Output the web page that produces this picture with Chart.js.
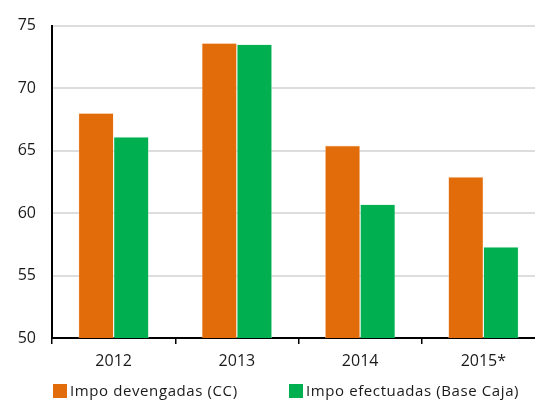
<!DOCTYPE html>
<html>
<head>
<meta charset="utf-8">
<script src="https://cdn.jsdelivr.net/npm/chart.js@4/dist/chart.umd.min.js"></script>
<style>
  html, body { margin: 0; padding: 0; background: #ffffff; overflow: hidden; width: 535px; height: 401px; }
  #wrap { position: relative; width: 545px; height: 401px; }
  canvas { display: block; }
</style>
</head>
<body>
<div id="wrap"><canvas id="c" width="545" height="401"></canvas></div>
<script>
const categories = ['2012', '2013', '2014', '2015*'];
const seriesNames = ['Impo devengadas (CC)', 'Impo efectuadas (Base Caja)'];
const devengadas = [68.0, 73.6, 65.4, 62.9];
const efectuadas = [66.1, 73.5, 60.7, 57.3];
const yTicks = [50, 55, 60, 65, 70, 75];

const ORANGE = '#E36C0A';
const GREEN = '#00B050';
const FONT = '"Open Sans", Lato, sans-serif';
const TEXT = '#1a1a1a';

const legendPlugin = {
  id: 'customLegend',
  afterDraw(chart) {
    const ctx = chart.ctx;
    const area = chart.chartArea;
    const starts = [area.left + 1, area.left + 237];
    const yc = 391;
    ctx.save();
    ctx.font = '15px ' + FONT;
    if ('letterSpacing' in ctx) ctx.letterSpacing = '0.6px';
    ctx.textBaseline = 'middle';
    ctx.textAlign = 'left';
    chart.data.datasets.forEach((ds, i) => {
      const x = starts[i];
      ctx.fillStyle = ds.backgroundColor;
      ctx.fillRect(x, yc - 7, 14, 14);
      ctx.fillStyle = TEXT;
      ctx.fillText(ds.label, x + 17, yc + 1);
    });
    ctx.restore();
  }
};

new Chart(document.getElementById('c'), {
  type: 'bar',
  data: {
    labels: categories,
    datasets: [
      { label: seriesNames[0], data: devengadas, backgroundColor: ORANGE, borderColor: 'rgba(255,230,210,0.9)', borderWidth: 0.6 },
      { label: seriesNames[1], data: efectuadas, backgroundColor: GREEN, borderColor: 'rgba(210,245,225,0.9)', borderWidth: 0.6 }
    ]
  },
  options: {
    responsive: false,
    animation: false,
    devicePixelRatio: 1,
    layout: { padding: { top: 20, left: 0, right: 0, bottom: 0 } },
    datasets: { bar: { categoryPercentage: 0.57, barPercentage: 1.0 } },
    plugins: { legend: { display: false }, tooltip: { enabled: false } },
    scales: {
      x: {
        grid: { display: true, drawOnChartArea: false, drawTicks: true, tickLength: 6, color: '#000000', lineWidth: 1.5, offset: true },
        border: { display: true, color: '#000000', width: 2 },
        ticks: { font: { family: FONT, size: 16 }, color: TEXT, padding: 8 },
        afterFit(scale) { scale.height = 63; }
      },
      y: {
        min: 50, max: 75,
        afterBuildTicks(scale) { scale.ticks = yTicks.map(v => ({ value: v })); },
        grid: { color: '#DDDDDD', lineWidth: 2, drawTicks: false },
        border: { display: true, color: '#000000', width: 2 },
        ticks: { font: { family: FONT, size: 16 }, color: TEXT, padding: 16 },
        afterFit(scale) { scale.width = 52; }
      }
    }
  },
  plugins: [legendPlugin]
});
</script>
</body>
</html>
